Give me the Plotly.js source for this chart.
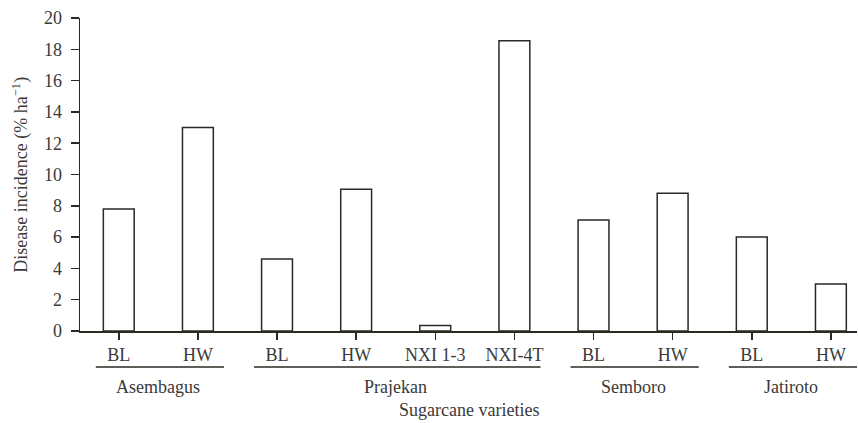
<!DOCTYPE html>
<html>
<head>
<meta charset="utf-8">
<script src="https://cdn.plot.ly/plotly-3.0.1.min.js"></script>
<style>html,body{margin:0;padding:0;background:#fff;}#chart{width:858px;height:423px;}</style>
</head>
<body>
<div id="chart"></div>
<script>
// Data
var varieties = ['BL', 'HW', 'BL', 'HW', 'NXI 1-3', 'NXI-4T', 'BL', 'HW', 'BL', 'HW'];
var incidence = [7.8, 13.0, 4.6, 9.05, 0.35, 18.55, 7.1, 8.8, 6.0, 3.0];
var groups = ['Asembagus', 'Prajekan', 'Semboro', 'Jatiroto'];
var groupFirst = [0, 2, 6, 8];
var groupLast = [1, 5, 7, 9];
var yTicks = [0, 2, 4, 6, 8, 10, 12, 14, 16, 18, 20];

var idx = varieties.map(function (_, i) { return i; });
var textColor = '#3a3a3a';
var fontFam = 'Liberation Serif, Times New Roman, serif';

var trace = {
  type: 'bar',
  x: idx,
  y: incidence,
  marker: { color: 'rgba(0,0,0,0)', line: { color: '#2a2a22', width: 1.5 } },
  hoverinfo: 'none'
};

var shapes = [];
var annotations = [];
groups.forEach(function (g, k) {
  shapes.push({
    type: 'line', xref: 'x', yref: 'paper',
    x0: groupFirst[k] - 0.29, x1: groupLast[k] + 0.33,
    y0: -0.115, y1: -0.115,
    line: { color: '#2a2a22', width: 1.5 }
  });
  annotations.push({
    xref: 'x', yref: 'paper', x: (groupFirst[k] + groupLast[k]) / 2, y: -0.18,
    text: g, showarrow: false, xanchor: 'center', yanchor: 'middle',
    font: { family: fontFam, size: 18, color: textColor }
  });
});
annotations.push({
  xref: 'paper', yref: 'paper', x: 0.5, y: -0.252,
  text: 'Sugarcane varieties', showarrow: false, xanchor: 'center', yanchor: 'middle',
  font: { family: fontFam, size: 18, color: textColor }
});
annotations.push({
  xref: 'paper', yref: 'paper', x: -0.077, y: 0.5, textangle: -90,
  text: 'Disease incidence (% ha<sup>−1</sup>)', showarrow: false,
  xanchor: 'center', yanchor: 'middle',
  font: { family: fontFam, size: 18, color: textColor }
});

var layout = {
  width: 858, height: 423,
  margin: { l: 80, r: 1, t: 18, b: 92 },
  paper_bgcolor: '#ffffff', plot_bgcolor: 'rgba(0,0,0,0)',
  showlegend: false,
  bargap: 0.61,
  font: { family: fontFam, size: 18, color: textColor },
  xaxis: {
    range: [-0.49, 9.33],
    tickmode: 'array', tickvals: idx, ticktext: varieties,
    ticks: 'outside', ticklen: 7, tickwidth: 1.5, tickcolor: '#2a2a22',
    showline: true, linecolor: '#2a2a22', linewidth: 1.5,
    showgrid: false, zeroline: false,
    tickfont: { family: fontFam, size: 18, color: textColor }
  },
  yaxis: {
    range: [0, 20],
    tickmode: 'array', tickvals: yTicks,
    ticks: 'outside', ticklen: 8, tickwidth: 1.5, tickcolor: '#2a2a22',
    ticklabelstandoff: 5,
    showline: true, linecolor: '#2a2a22', linewidth: 1.5,
    showgrid: false, zeroline: false,
    tickfont: { family: fontFam, size: 18, color: textColor }
  },
  shapes: shapes,
  annotations: annotations
};

Plotly.newPlot('chart', [trace], layout, { displayModeBar: false, staticPlot: true });
</script>
</body>
</html>
